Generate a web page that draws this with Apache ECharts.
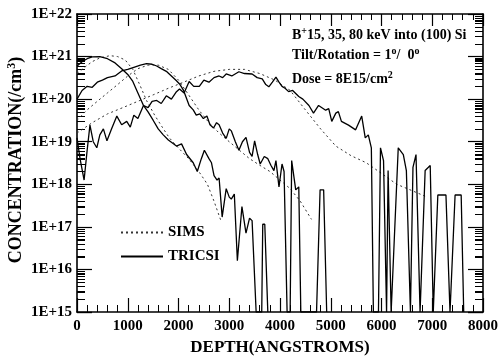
<!DOCTYPE html>
<html>
<head>
<meta charset="utf-8">
<script src="https://cdn.jsdelivr.net/npm/echarts@6/dist/echarts.min.js"></script>
<style>html,body{margin:0;padding:0;background:#fff}#c{width:501px;height:361px}</style>
</head>
<body>
<div id="c"></div>
<script>
// ---- data (depth in Angstroms, concentration in /cm^3) ----
const xTickLabels = ['0','1000','2000','3000','4000','5000','6000','7000','8000'];
const yTickLabels = ['1E+15','1E+16','1E+17','1E+18','1E+19','1E+20','1E+21','1E+22'];

const tricsi15Depth = [0,100,200,300,450,600,750,880,1000,1100,1200,1310,1400,1500,1600,1700,1800,1960,2060,2160,2290,2370,2450,2510,2600,2650,2700,2760,2800,2860,2940,3000,3040,3100,3160,3250,3330,3400,3450,3530,3640,3660,3700,3760];
const tricsi15Conc = [6.0e20,7.6e20,8.9e20,9.8e20,1.0e21,8.9e20,7.1e20,5.2e20,3.8e20,2.6e20,1.4e20,7.1e19,5.0e19,3.2e19,2.0e19,1.45e19,1.1e19,7.9e18,8.9e18,5.0e18,3.2e18,2.0e18,4.0e18,6.3e18,4.0e18,3.2e18,1.6e18,1.26e18,1.4e18,1.7e17,7.9e17,5.0e17,4.5e17,5.9e17,1.6e16,3.0e17,7.1e16,1.6e17,1.4e17,1e15,1e15,1.15e17,1.15e17,1e15];

const tricsi35Depth = [0,100,200,300,400,500,600,750,880,1000,1120,1250,1370,1480,1570,1660,1760,1860,1960,2030,2100,2210,2290,2350,2420,2490,2560,2620,2690,2750,2800,2870,2940,3000,3040,3120,3190,3260,3330,3400,3450,3500,3560,3610,3690,3760,3820,3880,3920,3980,4040,4080,4140,4200,4230,4310,4370,4410,4720,4790,4860,4920];
const tricsi35Conc = [1.0e20,1.6e20,2.0e20,1.9e20,2.5e20,2.8e20,3.2e20,3.5e20,4.6e20,5.0e20,5.6e20,6.3e20,6.8e20,6.6e20,6.0e20,5.2e20,4.5e20,3.5e20,2.7e20,2.2e20,1.6e20,7.1e19,5.6e19,4.2e19,4.5e19,3.5e19,4.0e19,2.5e19,2.1e19,2.8e19,2.5e19,1.6e19,1.2e19,2.0e19,1.8e19,1.0e19,6.3e18,1.0e19,1.26e19,5.6e18,4.5e18,1.05e19,5.0e18,3.0e18,4.5e18,4.0e18,2.8e18,2.1e18,3.6e18,8.7e17,3.0e18,2.0e18,1e15,1e15,3.6e18,7.4e17,8.7e17,1e15,1e15,7.4e17,7.4e17,1e15];

const tricsi80Depth = [0,60,140,200,255,320,390,450,520,590,680,785,880,980,1050,1120,1200,1310,1400,1480,1570,1660,1760,1860,1960,2020,2110,2210,2300,2410,2500,2600,2700,2800,2870,2940,3050,3190,3300,3450,3550,3650,3720,3780,3850,3920,3980,4040,4100,4170,4250,4370,4450,4570,4660,4760,4900,4960,5020,5100,5150,5210,5350,5490,5610,5680,5740,5800,5840,5940,5980,6040,6100,6130,6190,6330,6430,6490,6570,6620,6680,6760,6860,6960,7020,7110,7270,7350,7450,7570,7620];
const tricsi80Conc = [1.23e19,4.0e18,1.26e18,6.3e18,2.45e19,1.0e19,7.2e18,1.45e19,2.0e19,1.05e19,2.0e19,4.0e19,2.5e19,3.0e19,2.2e19,4.2e19,3.5e19,7.1e19,6.3e19,8.9e19,9.3e19,7.9e19,1.2e20,1.0e20,1.5e20,1.74e20,1.4e20,2.6e20,2.0e20,2.0e20,2.8e20,2.5e20,3.2e20,3.5e20,3.2e20,3.9e20,3.5e20,4.4e20,4.0e20,3.9e20,3.2e20,3.0e20,2.2e20,1.95e20,2.5e20,3.3e20,2.5e20,2.0e20,1.8e20,1.5e20,1.6e20,1.15e20,1.0e20,7.1e19,4.7e19,7.1e19,5.5e19,6.0e19,3.0e19,4.7e19,5.1e19,3.0e19,2.45e19,1.9e19,4.0e19,1.23e19,1.45e19,7.2e18,1e15,1e15,7.2e18,3.6e18,1e15,2.1e18,1e15,7.2e18,5.0e18,2.1e18,1e15,2.5e18,5.0e18,1e15,2.1e18,2.75e18,1e15,5.6e17,5.6e17,1e15,5.6e17,5.6e17,1e15];

const sims15Depth = [0,150,300,450,650,800,950,1100,1250,1370,1530,1680,1820,2000,2200,2400,2570,2700,2840];
const sims15Conc = [4.0e20,5.6e20,7.6e20,9.3e20,1.05e21,1.0e21,8.3e20,5.0e20,2.0e20,9.3e19,4.2e19,2.2e19,1.23e19,7.1e18,4.0e18,2.0e18,1.0e18,4.0e17,1.35e17];

const sims35Depth = [0,200,400,600,800,1000,1200,1400,1600,1800,2000,2200,2400,2600,2800,3000,3200,3400,3600,3800,4000,4200,4400,4620];
const sims35Conc = [3.2e19,5.6e19,8.9e19,1.4e20,2.2e20,3.5e20,5.2e20,6.3e20,6.3e20,5.0e20,2.8e20,1.26e20,5.6e19,2.8e19,1.6e19,1.0e19,6.3e18,4.0e18,2.8e18,2.0e18,1.26e18,7.9e17,4.0e17,1.5e17];

const sims80Depth = [0,300,600,900,1200,1500,1800,2100,2400,2700,3000,3300,3600,3900,4200,4500,4800,5100,5400,5700,6000,6300,6600,6900];
const sims80Conc = [1.6e19,2.8e19,4.5e19,6.3e19,8.9e19,1.26e20,1.8e20,2.5e20,3.5e20,4.5e20,5.0e20,5.0e20,4.0e20,2.8e20,1.6e20,5.6e19,2.0e19,7.9e18,4.7e18,3.2e18,1.8e18,1.0e18,7.1e17,5.0e17];

// ---- helpers ----
const zip = (xs, ys) => xs.map((x, i) => [x, ys[i]]);
const FONT = '"Liberation Serif","DejaVu Serif",serif';

function lineSeries(name, data, isSims) {
  const style = isSims ? { color: '#333', width: 1, type: [2, 3] } : { color: '#000', width: 1.3, type: 'solid' };
  return {
    name, type: 'line', data, showSymbol: false, symbol: 'none',
    lineStyle: style, itemStyle: { color: style.color }, clip: true, animation: false
  };
}
const axisLine = () => ({ show: true, onZero: false, lineStyle: { color: '#000', width: 1.6 } });
const yTick = () => ({ show: true, inside: true, length: 15, lineStyle: { color: '#000', width: 1.2 } });
const yMinor = () => ({ show: true, splitNumber: 9, length: 8, lineStyle: { color: '#000', width: 1 } });
const supRich = () => ({ sup: { fontFamily: FONT, fontWeight: 'bold', fontSize: 10, padding: [0, 0, 8, 0] } });

const chart = echarts.init(document.getElementById('c'), null, { renderer: 'canvas' });
chart.setOption({
  backgroundColor: '#fff',
  animation: false,
  grid: { left: 77, right: 16, top: 14, bottom: 44 },
  legend: {
    data: ['SIMS', 'TRICSI'], orient: 'vertical', left: 120, top: 225, padding: 0,
    itemWidth: 42, itemHeight: 15, itemGap: 9,
    itemStyle: { opacity: 0 },
    textStyle: { fontFamily: FONT, fontWeight: 'bold', fontSize: 15, color: '#000' }
  },
  xAxis: [{
    type: 'value', min: 0, max: 8000, interval: 1000, position: 'bottom',
    axisLine: axisLine(), splitLine: { show: false },
    axisTick: { show: true, inside: true, length: 14, lineStyle: { color: '#000', width: 1.2 } },
    minorTick: { show: true, splitNumber: 5, length: 7, lineStyle: { color: '#000', width: 1 } },
    axisLabel: { formatter: v => xTickLabels[Math.round(v / 1000)], fontFamily: FONT, fontWeight: 'bold', fontSize: 15, color: '#000', margin: 7 },
    name: 'DEPTH(ANGSTROMS)', nameLocation: 'middle', nameGap: 27,
    nameTextStyle: { fontFamily: FONT, fontWeight: 'bold', fontSize: 17, color: '#000' }
  }, {
    type: 'value', min: 0, max: 8000, interval: 1000, position: 'top',
    axisLine: axisLine(), splitLine: { show: false }, axisLabel: { show: false },
    axisTick: { show: true, inside: true, length: 12, lineStyle: { color: '#000', width: 1.2 } },
    minorTick: { show: true, splitNumber: 5, length: 6, lineStyle: { color: '#000', width: 1 } }
  }],
  yAxis: [{
    type: 'log', logBase: 10, min: 1e15, max: 1e22, splitNumber: 7, position: 'left',
    axisLine: axisLine(), splitLine: { show: false }, axisTick: yTick(), minorTick: yMinor(),
    axisLabel: { formatter: v => yTickLabels[Math.round(Math.log10(v)) - 15], fontFamily: FONT, fontWeight: 'bold', fontSize: 15, color: '#000', margin: 5 }
  }, {
    type: 'log', logBase: 10, min: 1e15, max: 1e22, splitNumber: 7, position: 'right',
    axisLine: axisLine(), splitLine: { show: false }, axisLabel: { show: false }, axisTick: yTick(), minorTick: yMinor()
  }],
  series: [
    lineSeries('SIMS', zip(sims15Depth, sims15Conc), true),
    lineSeries('SIMS', zip(sims35Depth, sims35Conc), true),
    lineSeries('SIMS', zip(sims80Depth, sims80Conc), true),
    lineSeries('TRICSI', zip(tricsi15Depth, tricsi15Conc), false),
    lineSeries('TRICSI', zip(tricsi35Depth, tricsi35Conc), false),
    lineSeries('TRICSI', zip(tricsi80Depth, tricsi80Conc), false)
  ]
});

// Text annotations plus log minor ticks (2..9 per decade) on left/right frame, positioned via the chart's y scale.
const elements = [
  { type: 'text', x: 16, y: 160, rotation: Math.PI / 2,
    style: { text: 'CONCENTRATION(/cm{sup|3})', fontFamily: FONT, fontWeight: 'bold', fontSize: 18, fill: '#000', align: 'center', verticalAlign: 'middle',
      rich: { sup: { fontFamily: FONT, fontWeight: 'bold', fontSize: 12, padding: [0, 0, 9, 0] } } } },
  { type: 'text', left: 292, top: 26,
    style: { text: 'B{sup|+}15, 35, 80 keV into (100) Si', fontFamily: FONT, fontWeight: 'bold', fontSize: 14, fill: '#000', rich: supRich() } },
  { type: 'text', left: 292, top: 46,
    style: { text: 'Tilt/Rotation = 1{sup|o}/  0{sup|o}', fontFamily: FONT, fontWeight: 'bold', fontSize: 14, fill: '#000', rich: supRich() } },
  { type: 'text', left: 292, top: 70,
    style: { text: 'Dose = 8E15/cm{sup|2}', fontFamily: FONT, fontWeight: 'bold', fontSize: 14, fill: '#000', rich: supRich() } }
];
for (let e = 15; e < 22; e++) {
  for (let m = 2; m <= 9; m++) {
    const v = m * Math.pow(10, e);
    let pL, pR;
    try {
      pL = chart.convertToPixel({ xAxisIndex: 0, yAxisIndex: 0 }, [0, v]);
      pR = chart.convertToPixel({ xAxisIndex: 0, yAxisIndex: 0 }, [8000, v]);
    } catch (err) { pL = null; pR = null; }
    if (!pL || !pR || !isFinite(pL[1])) continue;
    const y = Math.round(pL[1]) + 0.5;
    elements.push({ type: 'line', shape: { x1: pL[0], y1: y, x2: pL[0] + 8, y2: y }, style: { stroke: '#000', lineWidth: 1 } });
    elements.push({ type: 'line', shape: { x1: pR[0] - 8, y1: y, x2: pR[0], y2: y }, style: { stroke: '#000', lineWidth: 1 } });
  }
}
chart.setOption({ graphic: { elements } });
</script>
</body>
</html>
